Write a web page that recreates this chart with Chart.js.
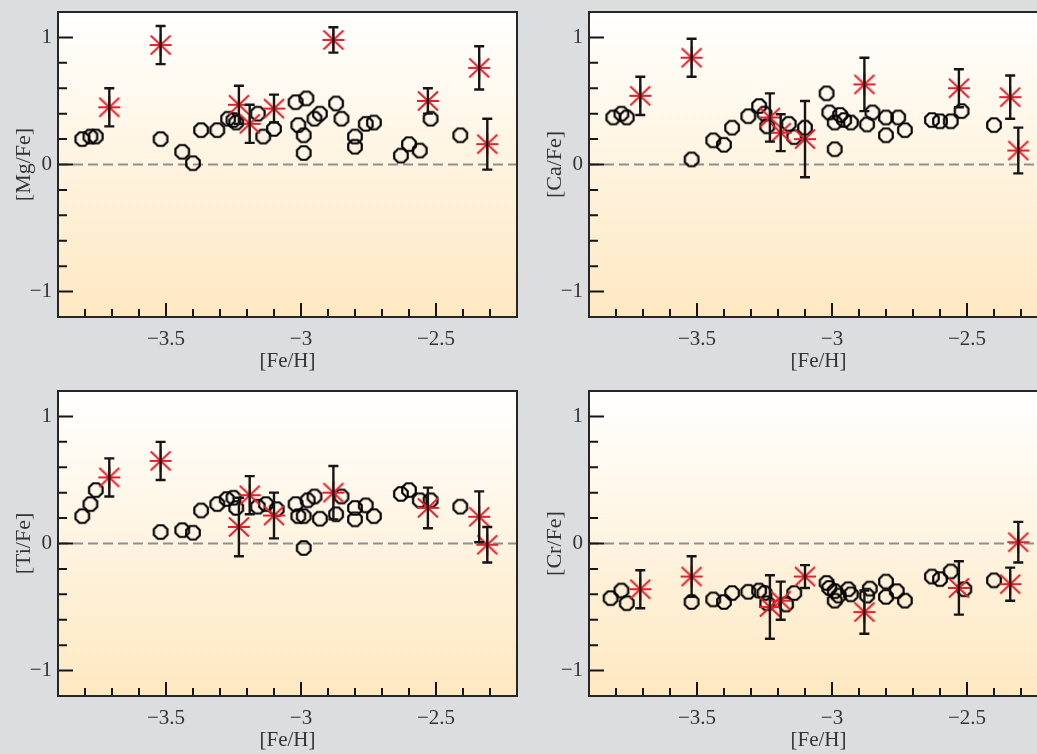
<!DOCTYPE html>
<html><head><meta charset="utf-8">
<script src="https://cdn.jsdelivr.net/npm/chart.js@4.4.1/dist/chart.umd.min.js"></script>
<style>
html,body{margin:0;padding:0;background:#dcdddf;width:1037px;height:754px;overflow:hidden;}
.p{position:absolute;width:531px;height:380px;}
canvas{display:block;}
</style></head><body>
<div class="p" style="left:0;top:0"><canvas id="cMg" width="531" height="380"></canvas></div>
<div class="p" style="left:531px;top:0"><canvas id="cCa" width="531" height="380"></canvas></div>
<div class="p" style="left:0;top:379px"><canvas id="cTi" width="531" height="380"></canvas></div>
<div class="p" style="left:531px;top:379px"><canvas id="cCr" width="531" height="380"></canvas></div>
<script>
// ---- axis ticks ----
const xTicks = [-3.8,-3.7,-3.6,-3.5,-3.4,-3.3,-3.2,-3.1,-3,-2.9,-2.8,-2.7,-2.6,-2.5,-2.4,-2.3];
const xLabelValues = [-3.5,-3,-2.5];
const xTickLabels = ['\u22123.5','\u22123','\u22122.5'];
const yTicks = [-1,-0.8,-0.6,-0.4,-0.2,0,0.2,0.4,0.6,0.8,1];
const yLabelValues = [-1,0,1];
const yTickLabels = ['\u22121','0','1'];

// ---- asterisk stars (with error bars), shared [Fe/H] ----
const starFeH = [-3.71,-3.52,-3.23,-3.19,-3.10,-2.88,-2.53,-2.34,-2.31];
const mgStar = [0.45,0.94,0.47,0.32,0.44,0.98,0.50,0.76,0.16];
const mgErr  = [0.15,0.15,0.15,0.15,0.11,0.10,0.10,0.17,0.20];
const caStar = [0.54,0.84,0.37,0.25,0.20,0.63,0.60,0.53,0.11];
const caErr  = [0.15,0.15,0.19,0.145,0.30,0.21,0.15,0.17,0.18];
const tiStar = [0.52,0.65,0.13,0.38,0.22,0.40,0.28,0.21,-0.01];
const tiErr  = [0.15,0.15,0.23,0.15,0.18,0.21,0.16,0.20,0.14];
const crStar = [-0.36,-0.26,-0.50,-0.45,-0.26,-0.54,-0.35,-0.32,0.01];
const crErr  = [0.15,0.16,0.25,0.15,0.09,0.17,0.21,0.13,0.16];

// ---- open octagon comparison sample ----
const mgCircX = [-3.81,-3.78,-3.76,-3.52,-3.44,-3.40,-3.37,-3.31,-3.27,-3.25,-3.24,-3.16,-3.14,-3.10,-3.02,-2.98,-3.01,-2.99,-2.99,-2.95,-2.93,-2.87,-2.85,-2.80,-2.80,-2.76,-2.73,-2.63,-2.60,-2.56,-2.52,-2.41];
const mgCircY = [0.20,0.22,0.22,0.20,0.10,0.01,0.27,0.27,0.36,0.35,0.33,0.40,0.22,0.28,0.49,0.52,0.31,0.23,0.09,0.36,0.40,0.48,0.36,0.22,0.14,0.32,0.33,0.07,0.16,0.11,0.36,0.23];
const caCircX = [-3.81,-3.78,-3.76,-3.52,-3.44,-3.40,-3.37,-3.31,-3.27,-3.25,-3.24,-3.16,-3.14,-3.10,-3.02,-3.01,-2.99,-2.99,-2.97,-2.955,-2.93,-2.87,-2.85,-2.80,-2.80,-2.755,-2.73,-2.63,-2.60,-2.56,-2.52,-2.40];
const caCircY = [0.37,0.40,0.37,0.04,0.19,0.155,0.29,0.38,0.46,0.40,0.30,0.32,0.215,0.29,0.56,0.41,0.33,0.12,0.39,0.35,0.33,0.315,0.41,0.37,0.23,0.37,0.27,0.35,0.34,0.34,0.42,0.31];
const tiCircX = [-3.81,-3.78,-3.76,-3.52,-3.44,-3.40,-3.37,-3.31,-3.275,-3.25,-3.24,-3.16,-3.13,-3.09,-3.02,-3.01,-2.99,-2.975,-2.95,-2.99,-2.93,-2.87,-2.85,-2.80,-2.80,-2.76,-2.73,-2.63,-2.60,-2.56,-2.52,-2.41];
const tiCircY = [0.215,0.31,0.42,0.09,0.105,0.085,0.26,0.31,0.35,0.36,0.28,0.29,0.31,0.27,0.31,0.215,0.215,0.34,0.37,-0.035,0.195,0.23,0.37,0.28,0.19,0.30,0.215,0.39,0.42,0.34,0.34,0.29];
const crCircX = [-3.82,-3.78,-3.76,-3.52,-3.44,-3.40,-3.37,-3.31,-3.27,-3.25,-3.24,-3.17,-3.14,-3.02,-3.01,-2.99,-2.99,-2.975,-2.94,-2.93,-2.87,-2.86,-2.80,-2.80,-2.76,-2.73,-2.63,-2.60,-2.56,-2.51,-2.40];
const crCircY = [-0.43,-0.37,-0.47,-0.46,-0.44,-0.46,-0.39,-0.38,-0.37,-0.39,-0.47,-0.48,-0.39,-0.31,-0.35,-0.375,-0.45,-0.41,-0.36,-0.40,-0.41,-0.355,-0.30,-0.42,-0.375,-0.45,-0.26,-0.28,-0.22,-0.36,-0.29];

// ---- styles ----
const FONT_FAMILY = '"Liberation Serif", "DejaVu Serif", serif';
const TEXT_COLOR = '#333333';
const INK = '#151515';
const STAR_RED = '#e5202c';

function makeOctagon(){
  const c = document.createElement('canvas'); c.width = 20; c.height = 20;
  const g = c.getContext('2d');
  g.strokeStyle = '#000'; g.lineWidth = 2.2; g.beginPath();
  for (let k = 0; k < 8; k++) {
    const a = Math.PI/8 + k*Math.PI/4;
    const px = 10 + 7.3*Math.cos(a), py = 10 + 7.3*Math.sin(a);
    if (k) g.lineTo(px, py); else g.moveTo(px, py);
  }
  g.closePath(); g.stroke();
  return c;
}
function makeAsterisk(){
  const c = document.createElement('canvas'); c.width = 26; c.height = 26;
  const g = c.getContext('2d');
  g.strokeStyle = STAR_RED; g.lineWidth = 2; g.lineCap = 'butt';
  const cx = 13, cy = 13;
  const arms = [[11,0],[0,11],[10,9.5],[10,-9.5]];
  g.beginPath();
  arms.forEach(([dx,dy]) => { g.moveTo(cx-dx, cy-dy); g.lineTo(cx+dx, cy+dy); });
  g.stroke();
  return c;
}
const octImg = makeOctagon();
const starImg = makeAsterisk();

function near(a, b){ return Math.abs(a-b) < 1e-6; }
function zeroPad(s){ s.paddingTop = 0; s.paddingBottom = 0; s.paddingLeft = 0; s.paddingRight = 0; }

const framePlugin = {
  id: 'frame',
  beforeDraw(chart){
    const {ctx, chartArea: a} = chart;
    const g = ctx.createLinearGradient(0, a.top, 0, a.bottom);
    g.addColorStop(0, '#ffffff');
    g.addColorStop(1, '#fee8c1');
    ctx.save(); ctx.fillStyle = g;
    ctx.fillRect(a.left, a.top, a.right - a.left, a.bottom - a.top);
    ctx.restore();
  },
  beforeDatasetsDraw(chart){
    const {ctx, chartArea: a, scales} = chart;
    const y0 = scales.y.getPixelForValue(0);
    ctx.save();
    ctx.strokeStyle = '#8f8f8f'; ctx.lineWidth = 2; ctx.setLineDash([10,5]);
    ctx.beginPath(); ctx.moveTo(a.left, y0); ctx.lineTo(a.right, y0); ctx.stroke();
    ctx.restore();
  },
  afterDatasetsDraw(chart){
    const {ctx, chartArea: a, scales} = chart;
    const ds = chart.data.datasets[0];
    ctx.save();
    ctx.strokeStyle = INK; ctx.lineWidth = 2.4;
    ds.data.forEach((p, i) => {
      const e = ds.yErr[i];
      const px = scales.x.getPixelForValue(p.x);
      const t = scales.y.getPixelForValue(p.y + e);
      const b = scales.y.getPixelForValue(p.y - e);
      ctx.beginPath();
      ctx.moveTo(px, t); ctx.lineTo(px, b);
      ctx.moveTo(px-5, t); ctx.lineTo(px+5, t);
      ctx.moveTo(px-5, b); ctx.lineTo(px+5, b);
      ctx.stroke();
    });
    // inward tick marks
    ctx.lineWidth = 2; ctx.strokeStyle = INK;
    ctx.beginPath();
    scales.x.ticks.forEach(t => {
      const px = scales.x.getPixelForValue(t.value);
      const len = xLabelValues.some(v => near(v, t.value)) ? 14 : 8;
      ctx.moveTo(px, a.bottom); ctx.lineTo(px, a.bottom - len);
    });
    scales.y.ticks.forEach(t => {
      const py = scales.y.getPixelForValue(t.value);
      const len = yLabelValues.some(v => near(v, t.value)) ? 15 : 9;
      ctx.moveTo(a.left, py); ctx.lineTo(a.left + len, py);
    });
    ctx.stroke();
    // frame
    ctx.strokeStyle = '#262626'; ctx.lineWidth = 2;
    ctx.strokeRect(a.left, a.top, a.right - a.left, a.bottom - a.top);
    ctx.restore();
  }
};

function makeChart(id, yTitle, starY, starErr, circX, circY){
  const font = {family: FONT_FAMILY, size: 21};
  const titleFontY = {family: FONT_FAMILY, size: 22};
  new Chart(document.getElementById(id), {
    type: 'scatter',
    data: {
      datasets: [
        {
          label: 'this work',
          data: starFeH.map((x, i) => ({x, y: starY[i]})),
          yErr: starErr,
          pointStyle: starImg, pointRadius: 11
        },
        {
          label: 'comparison',
          data: circX.map((x, i) => ({x, y: circY[i]})),
          pointStyle: octImg, pointRadius: 8
        }
      ]
    },
    options: {
      responsive: false, animation: false, events: [],
      layout: {padding: {top: 12, right: 14, left: 0, bottom: 0}},
      plugins: {legend: {display: false}, tooltip: {enabled: false}},
      scales: {
        x: {
          type: 'linear', min: -3.9, max: -2.2,
          afterBuildTicks: s => { s.ticks = xTicks.map(v => ({value: v})); },
          afterFit: s => { s.height = 63; zeroPad(s); },
          grid: {display: false, drawTicks: false},
          border: {display: false},
          ticks: {
            autoSkip: false, maxRotation: 0, padding: 10, font, color: TEXT_COLOR,
            callback: v => { const i = xLabelValues.findIndex(w => near(w, v)); return i >= 0 ? xTickLabels[i] : ''; }
          },
          title: {display: true, text: '[Fe/H]', font, color: TEXT_COLOR, padding: {top: 0, bottom: 6}}
        },
        y: {
          type: 'linear', min: -1.2, max: 1.2,
          afterBuildTicks: s => { s.ticks = yTicks.map(v => ({value: v})); },
          afterFit: s => { s.width = 58; zeroPad(s); },
          grid: {display: false, drawTicks: false},
          border: {display: false},
          ticks: {
            autoSkip: false, padding: 6, font, color: TEXT_COLOR,
            callback: v => { const i = yLabelValues.findIndex(w => near(w, v)); return i >= 0 ? yTickLabels[i] : ''; }
          },
          title: {display: true, text: yTitle, font: titleFontY, color: TEXT_COLOR, padding: {top: 11, bottom: 0}}
        }
      }
    },
    plugins: [framePlugin]
  });
}

makeChart('cMg', '[Mg/Fe]', mgStar, mgErr, mgCircX, mgCircY);
makeChart('cCa', '[Ca/Fe]', caStar, caErr, caCircX, caCircY);
makeChart('cTi', '[Ti/Fe]', tiStar, tiErr, tiCircX, tiCircY);
makeChart('cCr', '[Cr/Fe]', crStar, crErr, crCircX, crCircY);
</script>
</body></html>
